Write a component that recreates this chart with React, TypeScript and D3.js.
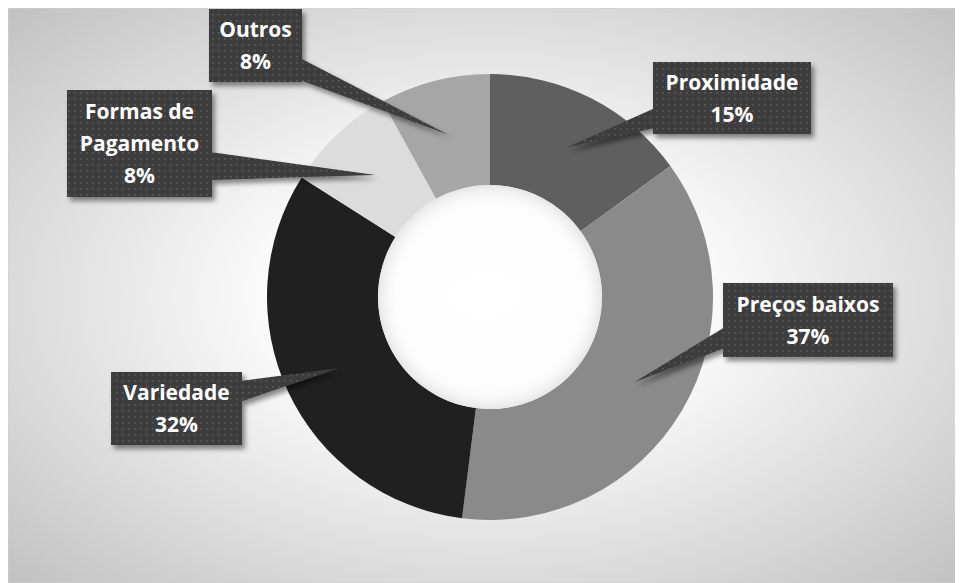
import * as d3 from 'd3';

// Dados do gráfico (rosca)
const categories = ['Proximidade', 'Preços baixos', 'Variedade', 'Formas de Pagamento', 'Outros'];
const values = [15, 37, 32, 8, 8];
const labelLines = [['Proximidade'], ['Preços baixos'], ['Variedade'], ['Formas de', 'Pagamento'], ['Outros']];
const sliceColors = ['#5f5f5f', '#8a8a8a', '#202020', '#dcdcdc', '#a6a6a6'];

// Caixas dos rótulos (coordenadas da página): x0, y0, x1, y1, lado do ponteiro, faixa da base
const labelBoxes = [
    { x0: 653, y0: 62, x1: 811, y1: 134, side: 'left', b0: 108, b1: 128 },
    { x0: 723, y0: 283, x1: 893, y1: 357, side: 'left', b0: 327, b1: 348 },
    { x0: 111, y0: 372, x1: 242, y1: 445, side: 'right', b0: 381, b1: 402 },
    { x0: 67, y0: 90, x1: 212, y1: 197, side: 'right', b0: 152, b1: 180 },
    { x0: 209, y0: 9, x1: 302, y1: 82, side: 'right', b0: 58, b1: 80 },
];

const W = 955;
const H = 575;
const cx = 490;
const cy = 297;
const outerR = 223;
const innerR = 112;

export default function App() {
    const pie = d3.pie<number>().sort(null).value(d => d);
    const arcs = pie(values);
    const arc = d3.arc<d3.PieArcDatum<number>>().innerRadius(innerR).outerRadius(outerR);
    const total = d3.sum(values);

    return (
        <svg width={W} height={H} style={{ display: 'block' }} fontFamily="'Open Sans', sans-serif">
            <defs>
                <radialGradient id="bg" cx="0.5" cy="0.5" r="0.75">
                    <stop offset="0" stopColor="#ffffff" />
                    <stop offset="0.3" stopColor="#fbfbfb" />
                    <stop offset="1" stopColor="#bcbcbc" />
                </radialGradient>
                <radialGradient id="hole" cx="0.5" cy="0.5" r="0.5">
                    <stop offset="0.8" stopColor="#ffffff" stopOpacity="0" />
                    <stop offset="1" stopColor="#e4e4e4" stopOpacity="0.9" />
                </radialGradient>
                <pattern id="dots" width="6" height="6" patternUnits="userSpaceOnUse">
                    <rect width="6" height="6" fill="#3e3e3e" />
                    <rect x="2" y="2" width="1.6" height="1.6" fill="#5c5c5c" />
                </pattern>
                <filter id="shadow" x="-20%" y="-20%" width="150%" height="160%">
                    <feDropShadow dx="3" dy="4" stdDeviation="2.5" floodColor="#000" floodOpacity="0.45" />
                </filter>
            </defs>
            <g transform="translate(-8,-8)">
                <rect x={8} y={8} width={W} height={H} fill="url(#bg)" stroke="#cfcfcf" strokeWidth={1} />
                <g transform={`translate(${cx},${cy})`}>
                    {arcs.map((a, i) => (
                        <path key={categories[i]} d={arc(a) || ''} fill={sliceColors[i]} />
                    ))}
                    <circle r={innerR} fill="url(#hole)" />
                </g>
                {arcs.map((a, i) => {
                    const b = labelBoxes[i];
                    const [tx, ty] = arc.centroid(a);
                    const ex = b.side === 'left' ? b.x0 + 2 : b.x1 - 2;
                    const wedge = `M${ex},${b.b0}L${cx + tx},${cy + ty}L${ex},${b.b1}Z`;
                    const mx = (b.x0 + b.x1) / 2;
                    const my = (b.y0 + b.y1) / 2;
                    const lines = [...labelLines[i], `${Math.round((values[i] / total) * 100)}%`];
                    const lh = 32;
                    const startY = my - ((lines.length - 1) * lh) / 2;
                    return (
                        <g key={categories[i]}>
                            <g filter="url(#shadow)">
                                <path d={wedge} fill="url(#dots)" />
                                <rect x={b.x0} y={b.y0} width={b.x1 - b.x0} height={b.y1 - b.y0} fill="url(#dots)" />
                            </g>
                            {lines.map((t, j) => (
                                <text key={j} x={mx} y={startY + j * lh} dy="0.36em" textAnchor="middle"
                                    fill="#ffffff" fontWeight="bold" fontSize={21}>{t}</text>
                            ))}
                        </g>
                    );
                })}
            </g>
        </svg>
    );
}
